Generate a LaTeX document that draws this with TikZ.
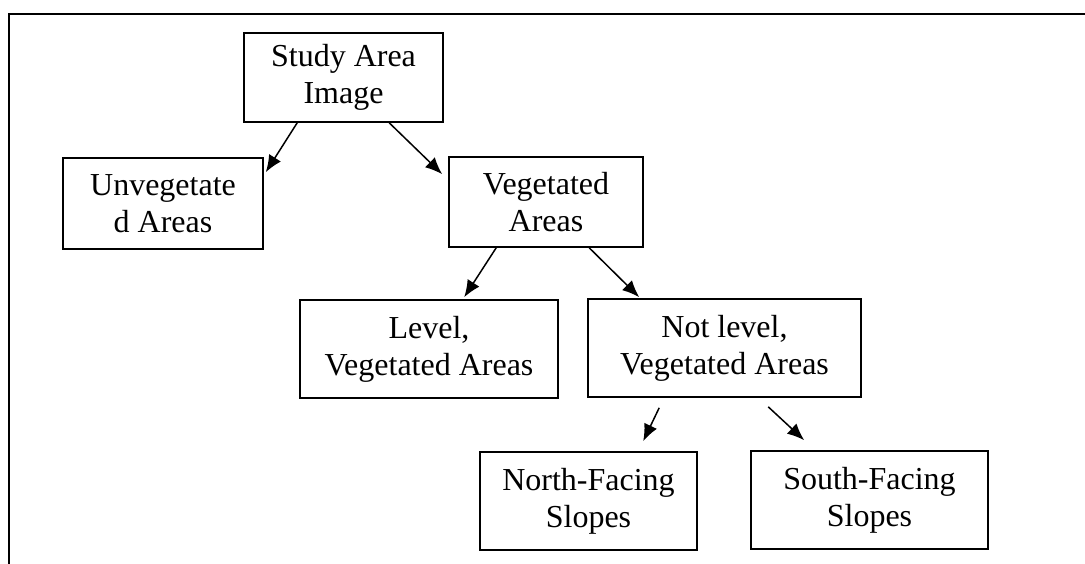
\documentclass[tikz,border=0pt]{standalone}
\usepackage{fontspec}
\setmainfont{Liberation Serif}
\usepackage{tikz}
\usetikzlibrary{arrows.meta,positioning,calc}

\begin{document}
\begin{tikzpicture}[x=1pt, y=-1pt,
    box/.style={draw, line width=1.6pt, align=center, inner sep=0pt,
        font=\fontsize{32}{36.8}\selectfont,
        execute at begin node={\rule{0pt}{28pt}}},
    flow/.style={-{Latex[length=17pt,width=14pt]}, line width=1.5pt}]
    \useasboundingbox (0,0) rectangle (1085,564);

    % Frame (top and left edges only)
    \draw[line width=1.6pt] (9,564) -- (9,14) -- (1085,14);

    % Top level
    \node[box, minimum width=199pt, minimum height=89pt] (study) at (343.5,77.5) {Study Area\\Image};

    % Second level
    \node[box, minimum width=200pt, minimum height=91pt] (unveg) at (163,203.5) {Unvegetate\\d Areas};
    \node[box, minimum width=194pt, minimum height=90pt] (veg) at (546,202) {Vegetated\\Areas};

    % Third level
    \node[box, minimum width=258pt, minimum height=98pt] (level) at (429,349) {Level,\\Vegetated Areas};
    \node[box, minimum width=273pt, minimum height=98pt] (notlevel) at (724.5,348) {Not level,\\Vegetated Areas};

    % Slopes
    \node[box, minimum width=217pt, minimum height=98pt] (north) at (588.5,501) {North-Facing\\Slopes};
    \node[box, minimum width=237pt, minimum height=98pt] (south) at (869.5,500) {South-Facing\\Slopes};

    % Arrows
    \draw[flow] ([xshift=54pt]study.south west) -- ([xshift=2pt,yshift=-15pt]unveg.north east);
    \draw[flow] ([xshift=146pt]study.south west) -- ([xshift=-6pt,yshift=-18pt]veg.north west);
    \draw[flow] ([xshift=48pt]veg.south west) -- ([xshift=165pt,yshift=2pt]level.north west);
    \draw[flow] ([xshift=141pt]veg.south west) -- ([xshift=52pt,yshift=1pt]notlevel.north west);
    \draw[flow] ([xshift=72pt,yshift=-10pt]notlevel.south west) -- ([xshift=164pt,yshift=10pt]north.north west);
    \draw[flow] ([xshift=181pt,yshift=-9pt]notlevel.south west) -- ([xshift=54pt,yshift=10pt]south.north west);

\end{tikzpicture}
\end{document}
